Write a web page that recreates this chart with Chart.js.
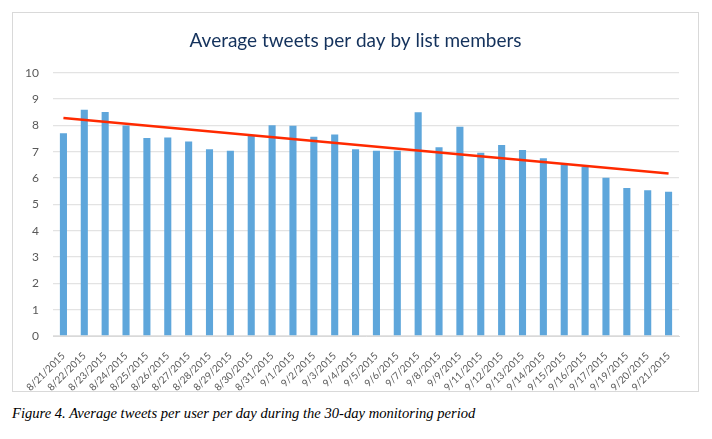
<!DOCTYPE html>
<html>
<head>
<meta charset="utf-8">
<script src="https://cdn.jsdelivr.net/npm/chart.js@4.4.1/dist/chart.umd.min.js"></script>
<style>
    body { margin: 0; background: #fff; width: 712px; height: 439px; position: relative; overflow: hidden; }
    #marco { position: absolute; left: 12px; top: 12px; width: 687px; height: 380px; border: 1px solid #d9d9d9; box-sizing: border-box; }
    #grafica { display: block; }
    #pie { position: absolute; left: 12px; top: 405px; font-family: "Liberation Serif", "DejaVu Serif", serif; font-style: italic; font-size: 14.6px; color: #000; }
</style>
</head>
<body>
<div id="marco"><canvas id="grafica" width="685" height="378"></canvas></div>
<div id="pie">Figure 4. Average tweets per user per day during the 30-day monitoring period</div>
<script>
const fechas = ['8/21/2015','8/22/2015','8/23/2015','8/24/2015','8/25/2015','8/26/2015','8/27/2015','8/28/2015','8/29/2015','8/30/2015',
    '8/31/2015','9/1/2015','9/2/2015','9/3/2015','9/4/2015','9/5/2015','9/6/2015','9/7/2015','9/8/2015','9/9/2015',
    '9/11/2015','9/12/2015','9/13/2015','9/14/2015','9/15/2015','9/16/2015','9/17/2015','9/19/2015','9/20/2015','9/21/2015'];
const promedios = [7.7, 8.6, 8.51, 8.0, 7.52, 7.54, 7.39, 7.1, 7.04, 7.6,
    8.01, 7.99, 7.57, 7.66, 7.1, 7.04, 7.04, 8.5, 7.17, 7.95,
    6.96, 7.26, 7.07, 6.75, 6.5, 6.43, 6.01, 5.62, 5.54, 5.48];
// linea de tendencia: solo extremos
const tendencia = [8.28, null, null, null, null, null, null, null, null, null,
    null, null, null, null, null, null, null, null, null, null,
    null, null, null, null, null, null, null, null, null, 6.17];
const ticksY = [0, 1, 2, 3, 4, 5, 6, 7, 8, 9, 10];

const grafica = document.getElementById('grafica');
Chart.defaults.font.family = 'Lato, "Open Sans", sans-serif';

const myChart = new Chart(grafica, {
    type: 'bar',
    data: {
        labels: fechas,
        datasets: [{
            type: 'line',
            label: 'Tendencia',
            data: tendencia,
            borderColor: '#ff2a00',
            borderWidth: 2.5,
            pointRadius: 0,
            spanGaps: true,
            order: 0
        }, {
            label: 'Promedio',
            data: promedios,
            backgroundColor: '#5ea6db',
            barPercentage: 0.34,
            categoryPercentage: 1,
            order: 1
        }]
    },
    options: {
        responsive: false,
        animation: false,
        layout: { padding: 0 },
        plugins: {
            legend: { display: false },
            tooltip: { enabled: false },
            title: {
                display: true,
                text: 'Average tweets per day by list members',
                color: '#14325c',
                font: { size: 19, weight: 'normal' },
                padding: { top: 16, bottom: 21 }
            }
        },
        scales: {
            x: {
                grid: { display: false },
                border: { color: '#d9d9d9' },
                ticks: { color: '#595959', font: { size: 10 }, minRotation: 45, maxRotation: 45, autoSkip: false, padding: 6 },
                afterFit: (eje) => { eje.height = 55; }
            },
            y: {
                min: 0,
                max: 10,
                border: { display: false },
                grid: { color: '#e3e3e3', lineWidth: 1.3, drawTicks: false },
                afterBuildTicks: (eje) => { eje.ticks = ticksY.map(v => ({ value: v })); },
                ticks: { color: '#595959', font: { size: 12 }, padding: 14 },
                afterFit: (eje) => { eje.width = 40; }
            },
            // eje vacio a la derecha para dejar el margen y centrar el titulo
            derecha: {
                position: 'right',
                grid: { display: false },
                border: { display: false },
                ticks: { display: false },
                afterFit: (eje) => { eje.width = 19; }
            }
        }
    }
});
</script>
</body>
</html>
